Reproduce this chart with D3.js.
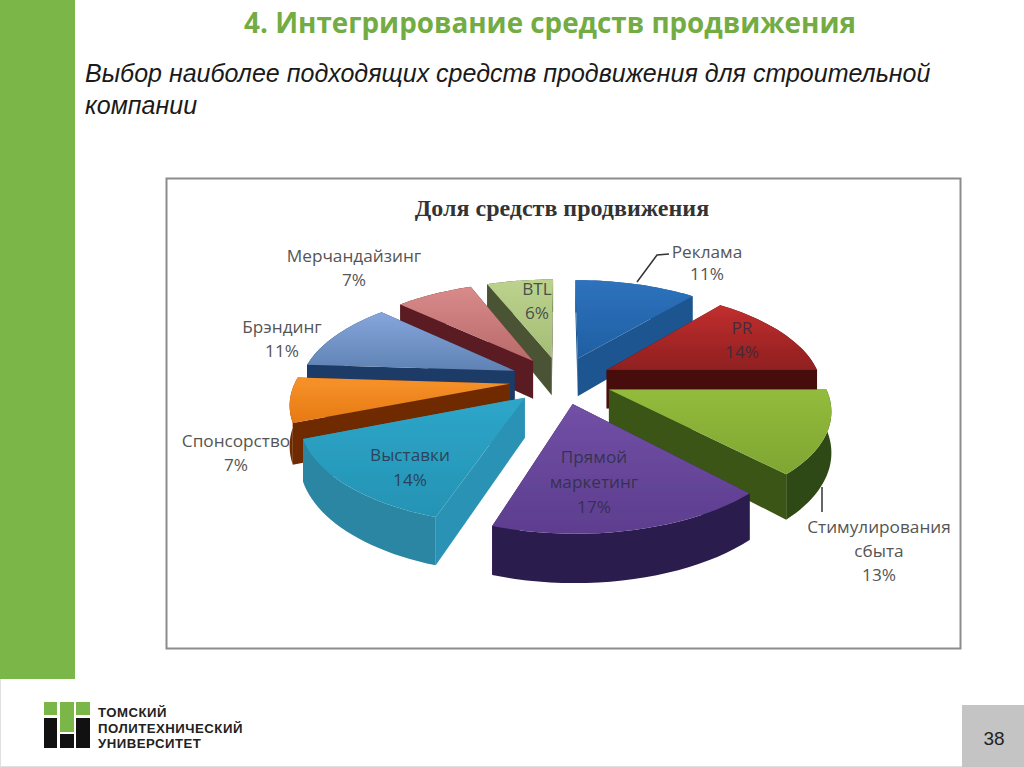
<!DOCTYPE html>
<html lang="ru">
<head>
<meta charset="utf-8">
<title>Доля средств продвижения</title>
<script src="https://cdn.jsdelivr.net/npm/d3@7"></script>
<style>
    html, body { margin: 0; padding: 0; background: #fff; overflow: hidden; }
    svg { display: block; }
    .label { font-family: "Open Sans", sans-serif; font-size: 17.2px; fill: #555; text-anchor: middle; }
    .label.inner { fill: #2b2b40; fill-opacity: 0.8; }
</style>
</head>
<body>
<div id="chart"></div>
<script>
// Data
const categories = ["Реклама", "PR", "Стимулирования сбыта", "Прямой маркетинг", "Выставки", "Спонсорство", "Брэндинг", "Мерчандайзинг", "BTL"];
const shares = [11, 14, 13, 17, 14, 7, 11, 7, 6];

// Colours of each slice: top face (light, dark), radial wall, rim
const topLight = ["#2e72bd", "#c22f2f", "#93bb3c", "#7150a6", "#2ea6c9", "#f7922a", "#86a6dc", "#d98a8a", "#bcd28e"];
const topDark = ["#1f5fa3", "#8f1f1f", "#7fa632", "#5d3d8e", "#2493b4", "#e67a12", "#5f82b3", "#b86a6a", "#a4bd74"];
const wallColors = ["#1d548f", "#470808", "#3b5518", "#2d1c50", "#2b93b5", "#6f2c06", "#1b3a66", "#5a1d22", "#4b5334"];
const rimColors = ["#1d548f", "#470808", "#2f4a12", "#2b1a4d", "#2a86a3", "#6f2c06", "#1b3a66", "#5a1d22", "#4b5334"];

// Label lines, one text per row
const labelRows = [["Реклама", "11%"], ["PR", "14%"], ["Стимулирования", "сбыта", "13%"], ["Прямой", "маркетинг", "17%"], ["Выставки", "14%"], ["Спонсорство", "7%"], ["Брэндинг", "11%"], ["Мерчандайзинг", "7%"], ["BTL", "6%"]];

const logoLines = ["ТОМСКИЙ", "ПОЛИТЕХНИЧЕСКИЙ", "УНИВЕРСИТЕТ"];

// Layout
const width = 1024, height = 767;
const cx = 561, cy = 380, R = 214;
const tilt = 0.46, explode = 0.24, persp = 0.17, depth = 39;
const labelPlace = [
    [707, 258, 22], [742, 334, 24], [879, 533, 24], [594, 463, 25], [410, 461, 25],
    [236, 447, 24], [282, 333, 24], [354, 262, 24], [537, 295, 24]
];

const svg = d3.select("#chart").append("svg")
    .attr("width", width)
    .attr("height", height);

const defs = svg.append("defs");
defs.append("filter").attr("id", "soft")
    .append("feGaussianBlur").attr("stdDeviation", 0.5);

// Slide furniture
svg.append("rect").attr("width", 75).attr("height", 679).attr("fill", "#7ab648");
svg.append("path").attr("d", "M0.5,679V766.5H962").attr("fill", "none").attr("stroke", "#e0e0e0");
svg.append("rect").attr("x", 962).attr("y", 705).attr("width", 62).attr("height", 62).attr("fill", "#c4c4c4");
svg.append("text").attr("x", 994).attr("y", 745).attr("text-anchor", "middle")
    .attr("font-family", "Liberation Sans").attr("font-size", 19).attr("fill", "#222").text("38");

svg.append("text").attr("x", 550).attr("y", 33).attr("text-anchor", "middle")
    .attr("font-family", "Open Sans").attr("font-weight", 700).attr("font-size", 27.8).attr("fill", "#72ac42")
    .text("4. Интегрирование средств продвижения");

svg.selectAll(".lead").data(["Выбор наиболее подходящих средств продвижения для строительной", "компании"])
    .join("text")
    .attr("x", 85).attr("y", (d, i) => 82 + i * 32)
    .attr("font-family", "Liberation Sans").attr("font-style", "italic").attr("font-size", 25).attr("fill", "#1a1a1a")
    .text(d => d);

// Chart frame and title
svg.append("rect").attr("x", 166.5).attr("y", 178.5).attr("width", 794).attr("height", 470)
    .attr("fill", "#fff").attr("stroke", "#8c8c8c").attr("stroke-width", 2);
svg.append("text").attr("x", 562).attr("y", 216).attr("text-anchor", "middle")
    .attr("font-family", "Liberation Serif").attr("font-weight", 700).attr("font-size", 24).attr("fill", "#333")
    .text("Доля средств продвижения");

// Ground plane to screen, near points grow
const xScale = d3.scaleLinear().domain([-1, 1]).range([cx - R, cx + R]);
const yScale = d3.scaleLinear().domain([-1, 1]).range([cy - R * tilt, cy + R * tilt]);

const project = (gx, gy, low) => {
    const s = 1 / (1 - persp * gy);
    return [xScale(gx * s), yScale(gy * s) + (low ? depth * s : 0)];
};

const pie = d3.pie().sort(null).value(d => d);
const arcs = pie(shares).map((a, i) => ({ ...a, i, mid: (a.startAngle + a.endAngle) / 2 }));

const ground = (a, r, theta) => [
    explode * Math.sin(a.mid) + r * Math.sin(theta),
    -explode * Math.cos(a.mid) - r * Math.cos(theta)
];

const line = d3.line();
const rimAngles = a => d3.range(0, 25).map(k => a.startAngle + (a.endAngle - a.startAngle) * k / 24);

const wallFace = (a, theta) => {
    const p = ground(a, 0, theta), q = ground(a, 1, theta);
    return [project(...p), project(...q), project(...q, true), project(...p, true)];
};
const rimFace = a => {
    const pts = rimAngles(a).map(t => ground(a, 1, t));
    return pts.map(p => project(...p)).concat(pts.slice().reverse().map(p => project(...p, true)));
};
const topFace = a => [project(...ground(a, 0, a.mid))].concat(rimAngles(a).map(t => project(...ground(a, 1, t))));
const meanY = pts => d3.mean(pts, p => p[1]);

arcs.forEach(a => {
    const g = defs.append("linearGradient").attr("id", `top${a.i}`).attr("x1", 0).attr("y1", 0).attr("x2", 0).attr("y2", 1);
    g.append("stop").attr("offset", "0%").attr("stop-color", topLight[a.i]);
    g.append("stop").attr("offset", "100%").attr("stop-color", topDark[a.i]);
});

// Back slices first so the near ones cover them
const pieGroup = svg.append("g").attr("filter", "url(#soft)");
arcs.slice().sort((a, b) => Math.cos(b.mid) - Math.cos(a.mid)).forEach(a => {
    const sides = [
        { pts: wallFace(a, a.startAngle), fill: wallColors[a.i] },
        { pts: wallFace(a, a.endAngle), fill: wallColors[a.i] },
        { pts: rimFace(a), fill: rimColors[a.i] }
    ].sort((p, q) => meanY(p.pts) - meanY(q.pts));
    sides.forEach(f => pieGroup.append("path").attr("d", line(f.pts) + "Z").attr("fill", f.fill));
    pieGroup.append("path").attr("d", line(topFace(a)) + "Z").attr("fill", `url(#top${a.i})`);
});

// Leader lines
svg.append("path").attr("d", "M637,282L657,255L669,254").attr("fill", "none").attr("stroke", "#333").attr("stroke-width", 1.5);
svg.append("path").attr("d", "M822,487L822,512").attr("fill", "none").attr("stroke", "#333").attr("stroke-width", 1.5);

// Labels
const insideSlices = [1, 3, 4, 8];
labelRows.forEach((rows, i) => {
    const [lx, ly, step] = labelPlace[i];
    svg.selectAll(null).data(rows).join("text")
        .attr("class", insideSlices.includes(i) ? "label inner" : "label")
        .attr("x", lx)
        .attr("y", (d, k) => ly + k * step)
        .text(d => d);
});

// University logo
const logo = svg.append("g");
[[44, 702, 13, 13, "#7ab648"], [60, 702, 14, 30, "#7ab648"], [76, 702, 14, 13, "#7ab648"],
 [44, 718, 13, 30, "#111"], [76, 718, 14, 30, "#111"], [60, 734, 14, 14, "#111"]].forEach(([x, y, w, h, fill]) => {
    logo.append("rect").attr("x", x).attr("y", y).attr("width", w).attr("height", h).attr("fill", fill);
});
logo.selectAll("text").data(logoLines).join("text")
    .attr("x", 98).attr("y", (d, i) => 717 + i * 15.5)
    .attr("font-family", "Liberation Sans").attr("font-weight", 700).attr("font-size", 13.2).attr("letter-spacing", 0.5).attr("fill", "#222")
    .text(d => d);
</script>
</body>
</html>
